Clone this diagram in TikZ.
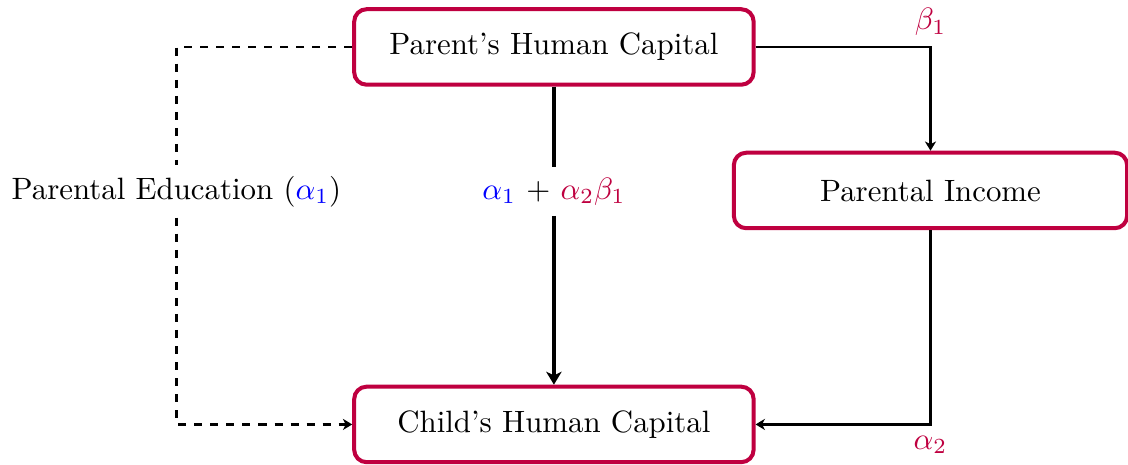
\documentclass[tikz,border=0pt]{standalone}
\usepackage{xcolor}
\usepackage{tikz}
\usepackage{amsmath,amssymb}
\usetikzlibrary{positioning, arrows.meta, calc}

\begin{document}
\begin{tikzpicture}[font=\normalsize,
    hbox/.style={draw=purple, line width=1.3pt, rounded corners=4pt, minimum width=4.55cm, minimum height=0.86cm, fill=white},
    link/.style={line width=0.7pt, -{Stealth[length=3pt, width=3.6pt, inset=0.9pt]}},
    coef/.style={text=purple}]

  \useasboundingbox (0, 0) rectangle (12.85, -5.29);

  \node[hbox] (parent) at (6.31, -0.535) {Parent's Human Capital};
  \node[hbox, minimum width=4.48cm] (income) at (10.6, -2.17) {Parental Income};
  \node[hbox] (child) at (6.31, -4.835) {Child's Human Capital};

  \node[fill=white] (total) at (6.31, -2.18) {\textcolor{blue}{$\alpha_1$} + \textcolor{purple}{$\alpha_2\beta_1$}};
  \node[fill=white] (educ) at (2.01, -2.18) {Parental Education (\textcolor{blue}{$\alpha_1$})};

  % direct effect
  \draw[line width=1.3pt] (parent) -- (total);
  \draw[line width=1.3pt, -{Stealth[length=4.2pt, width=5pt, inset=1.2pt]}] (total) -- (child);

  % income channel
  \draw[link] (parent.east) -| node[coef, above, pos=0.5] (b1) {$\beta_1$} (income);
  \draw[link] (income) |- node[coef, below, pos=0.5] (a2) {$\alpha_2$} (child.east);

  % education channel
  \draw[line width=0.7pt, dash pattern=on 2.6pt off 2.6pt] (parent.west) -| (educ);
  \draw[link, dash pattern=on 2.6pt off 2.6pt] (educ) |- (child.west);
\end{tikzpicture}
\end{document}
